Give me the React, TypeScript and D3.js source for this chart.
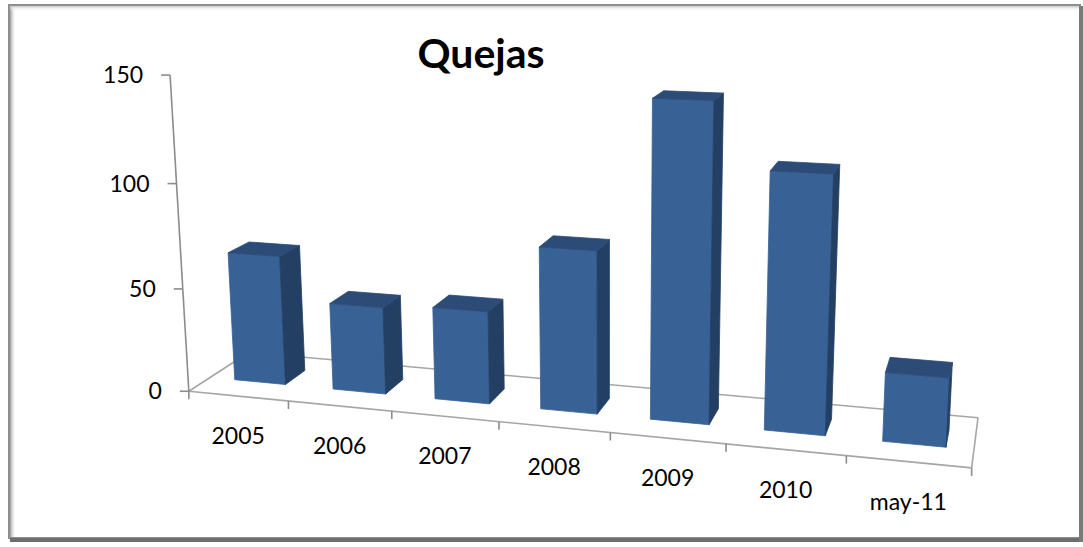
import React from 'react';
import * as d3 from 'd3';

const categories = ['2005', '2006', '2007', '2008', '2009', '2010', 'may-11'];
const values = [63, 42, 44, 76, 145, 116, 31];
const yTicks = [0, 50, 100, 150];
const title = 'Quejas';

// Frame calibration: world (X category units, Y in value/50, Z depth 0 front..1 back) -> screen px
const calib: number[][] = [
  [0, 0, 0, 189, 390],
  [7, 0, 0, 972, 466],
  [7, 0, 1, 978, 418],
  [0, 0, 1, 249, 352],
  [1, 0, 0, 288, 402],
  [2, 0, 0, 392, 412],
  [6, 0, 0, 846, 457],
  [0, 1, 0, 182.9, 288.7],
  [0, 2, 0, 176.6, 183.8],
  [0, 3, 0, 170, 75],
];

function solveDLT(pts: number[][]) {
  const rows: number[][] = [];
  const rhs: number[] = [];
  for (const [X, Y, Z, u0, v0] of pts) {
    const u = (u0 - 540) / 500, v = (v0 - 270) / 500;
    rows.push([X, Y, Z, 1, 0, 0, 0, 0, -u * X, -u * Y, -u * Z]); rhs.push(u);
    rows.push([0, 0, 0, 0, X, Y, Z, 1, -v * X, -v * Y, -v * Z]); rhs.push(v);
  }
  const n = 11;
  const A = Array.from({ length: n }, () => new Array(n + 1).fill(0));
  rows.forEach((r, k) => {
    for (let i = 0; i < n; i++) {
      for (let j = 0; j < n; j++) A[i][j] += r[i] * r[j];
      A[i][n] += r[i] * rhs[k];
    }
  });
  for (let c = 0; c < n; c++) {
    let piv = c;
    for (let r = c + 1; r < n; r++) if (Math.abs(A[r][c]) > Math.abs(A[piv][c])) piv = r;
    [A[c], A[piv]] = [A[piv], A[c]];
    for (let r = 0; r < n; r++) {
      if (r === c) continue;
      const f = A[r][c] / A[c][c];
      for (let j = c; j <= n; j++) A[r][j] -= f * A[c][j];
    }
  }
  return A.map((row, i) => row[n] / row[i]);
}

const P = solveDLT(calib);
function project(X: number, Y: number, Z: number): [number, number] {
  const w = P[8] * X + P[9] * Y + P[10] * Z + 1;
  const u = (P[0] * X + P[1] * Y + P[2] * Z + P[3]) / w;
  const v = (P[4] * X + P[5] * Y + P[6] * Z + P[7]) / w;
  return [u * 500 + 540, v * 500 + 270];
}

const xScale = d3.scaleBand<string>().domain(categories).range([0, 7]).paddingInner(0.48).paddingOuter(0.24).align(0.53);
const yScale = d3.scaleLinear().domain([0, 150]).range([0, 3]);
const Z0 = 0.34, Z1 = 0.69;

const FRONT = '#386295';
const SIDE = '#243f64';
const TOP = '#2c4b77';

function area(pts: [number, number][]) {
  let s = 0;
  for (let i = 0; i < pts.length; i++) {
    const a = pts[i], b = pts[(i + 1) % pts.length];
    s += a[0] * b[1] - b[0] * a[1];
  }
  return s / 2;
}

function Bar({ cat, value }: { cat: string; value: number }) {
  const x0 = xScale(cat)!, x1 = x0 + xScale.bandwidth();
  const h = yScale(value);
  const c = (xi: number, yi: number, zi: number) => project(xi ? x1 : x0, yi ? h : 0, zi ? Z1 : Z0);
  const faces: { pts: [number, number][]; fill: string }[] = [
    { pts: [c(0, 0, 0), c(0, 1, 0), c(1, 1, 0), c(1, 0, 0)], fill: FRONT },
    { pts: [c(0, 0, 1), c(1, 0, 1), c(1, 1, 1), c(0, 1, 1)], fill: FRONT },
    { pts: [c(0, 0, 0), c(0, 0, 1), c(0, 1, 1), c(0, 1, 0)], fill: SIDE },
    { pts: [c(1, 0, 0), c(1, 1, 0), c(1, 1, 1), c(1, 0, 1)], fill: SIDE },
    { pts: [c(0, 1, 0), c(0, 1, 1), c(1, 1, 1), c(1, 1, 0)], fill: TOP },
  ];
  const ref = Math.sign(area(faces[0].pts));
  return (
    <g>
      {faces.filter(f => Math.sign(area(f.pts)) === ref).map((f, i) => (
        <path key={i} d={'M' + f.pts.map(p => p.join(',')).join('L') + 'Z'} fill={f.fill} stroke={f.fill} strokeWidth={0.8} strokeLinejoin="round" />
      ))}
    </g>
  );
}

export default function App() {
  const line = (a: [number, number], b: [number, number], k: string, stroke = '#a6a6a6', sw = 1.6) => (
    <line key={k} x1={a[0]} y1={a[1]} x2={b[0]} y2={b[1]} stroke={stroke} strokeWidth={sw} />
  );
  const font = 'Lato, "Open Sans", sans-serif';
  return (
    <svg width={1083} height={547} style={{ position: 'absolute', left: 0, top: 0, background: '#fff' }}>
      <defs>
        <linearGradient id="lsh" x1="0" x2="1" y1="0" y2="0">
          <stop offset="0" stopColor="#9a9a9a" />
          <stop offset="1" stopColor="#ffffff" stopOpacity={0} />
        </linearGradient>
        <linearGradient id="tsh" x1="0" x2="0" y1="0" y2="1">
          <stop offset="0" stopColor="#c8c8c8" />
          <stop offset="1" stopColor="#ffffff" stopOpacity={0} />
        </linearGradient>
      </defs>
      <rect x={0} y={0} width={1083} height={547} fill="#fff" />
      {/* frame */}
      <rect x={9} y={5} width={1071} height={533} fill="#fff" stroke="#8f8f8f" strokeWidth={2} />
      <rect x={10} y={6} width={6} height={531} fill="url(#lsh)" />
      <rect x={10} y={6} width={1069} height={5} fill="url(#tsh)" />
      <rect x={10} y={538} width={1073} height={4} fill="#6e6e6e" />
      <rect x={1079} y={6} width={4} height={536} fill="#7a7a7a" />

      <text x={481} y={68} textAnchor="middle" fontFamily={font} fontWeight="bold" fontSize={41} fill="#000">{title}</text>

      {/* floor */}
      {line(project(0, 0, 1), project(7, 0, 1), 'back')}
      {line(project(0, 0, 0), project(0, 0, 1), 'left')}
      {line(project(7, 0, 0), project(7, 0, 1), 'right')}
      {line(project(0, 0, 0), project(7, 0, 0), 'front')}
      {line(project(0, 0, 0), project(0, yScale(150), 0), 'axis', '#8c8c8c', 1.6)}
      {yTicks.map(t => {
        const p = project(0, yScale(t), 0);
        return (
          <g key={'yt' + t}>
            {line(p, [p[0] - 9, p[1]], 'ytl' + t, '#8c8c8c', 1.6)}
            <text x={p[0] - 27} y={p[1]} dy="0.35em" textAnchor="end" fontFamily={font} fontSize={23} fill="#000">{t}</text>
          </g>
        );
      })}
      {d3.range(0, 8).map(k => {
        const p = project(k, 0, 0);
        return line(p, [p[0], p[1] + 8], 'xt' + k, '#8c8c8c', 1.6);
      })}
      {categories.map((cat, i) => (
        <Bar key={cat} cat={cat} value={values[i]} />
      ))}
      {categories.map((cat, i) => {
        const p = project(i + 0.5, 0, 0);
        return (
          <text key={'xl' + cat} x={p[0]} y={p[1] + 40} dy="0.35em" textAnchor="middle" fontFamily={font} fontSize={23} fill="#000">{cat}</text>
        );
      })}
    </svg>
  );
}
